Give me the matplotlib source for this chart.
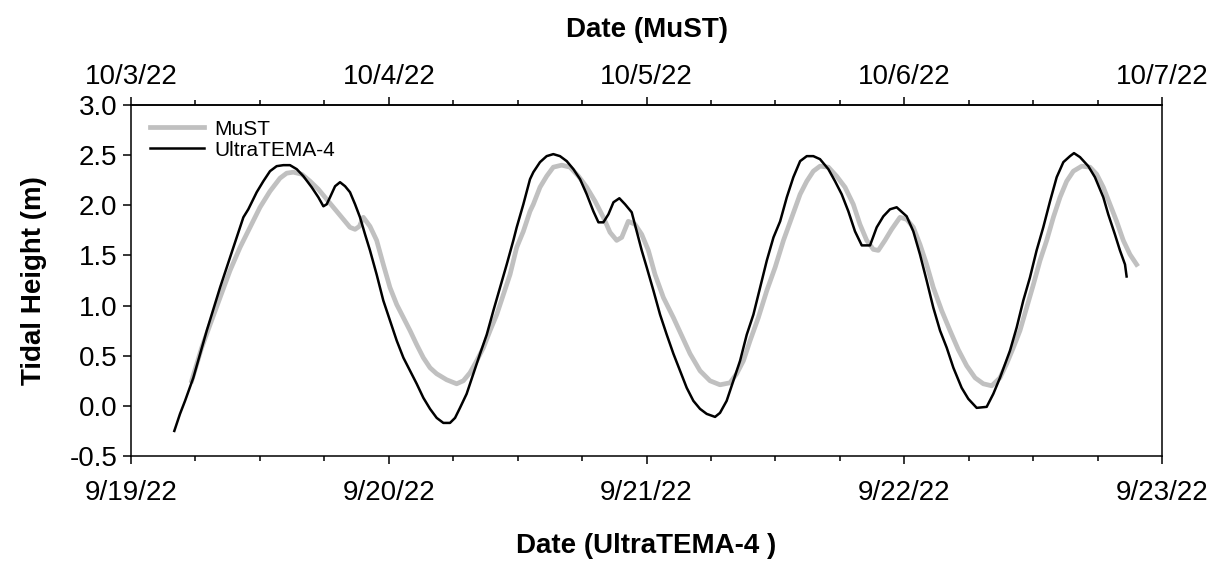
import numpy as np
import pandas as pd
import matplotlib
matplotlib.use("Agg")
from matplotlib import pyplot as plt
import matplotlib.dates as mdates

plt.rcParams['font.family'] = ['Liberation Sans', 'DejaVu Sans']

# UltraTEMA-4 record (hours after 9/19/22 00:00, tidal height in m)
ultra_hours = [4.03, 4.56, 5.03, 5.80, 7.05, 8.29, 9.22, 10.46, 10.92, 11.70, 12.32, 12.94,
               13.56, 14.18, 14.80, 15.43, 16.05, 16.82, 17.44, 17.91, 18.22, 18.53, 19.00,
               19.46, 19.93, 20.39, 20.86, 21.32, 21.79, 22.25, 22.87, 23.49, 24.11, 24.74,
               25.36, 25.98, 26.60, 27.22, 27.84, 28.46, 29.08, 29.70, 30.17, 30.63, 31.25,
               31.87, 32.50, 33.12, 33.74, 34.36, 34.98, 35.60, 35.91, 36.53, 37.15, 37.46,
               38.08, 38.70, 39.32, 39.94, 40.57, 41.19, 41.81, 42.43, 43.05, 43.52, 43.98,
               44.45, 44.92, 45.47, 46.00, 46.62, 47.09, 47.55, 48.02, 48.64, 49.26, 49.88,
               50.50, 51.12, 51.74, 52.36, 52.98, 53.60, 54.38, 54.84, 55.46, 56.09, 56.71,
               57.33, 57.95, 58.58, 59.20, 59.82, 60.44, 61.06, 61.67, 62.30, 62.92, 63.53,
               64.15, 64.93, 65.55, 66.17, 66.79, 67.41, 68.04, 68.81, 69.43, 70.05, 70.67,
               71.29, 72.22, 72.84, 73.46, 74.08, 74.70, 75.33, 75.95, 76.57, 77.34, 77.96,
               78.74, 79.67, 80.29, 80.91, 81.84, 82.46, 83.08, 83.70, 84.32, 84.94, 85.57,
               86.19, 86.81, 87.43, 87.80, 88.36, 89.13, 89.75, 90.53, 90.99, 91.61, 92.08,
               92.55, 92.70]
ultra_height = [-0.25, -0.08, 0.05, 0.28, 0.75, 1.18, 1.48, 1.88, 1.96, 2.13, 2.24, 2.34,
                2.39, 2.40, 2.40, 2.36, 2.29, 2.18, 2.08, 1.99, 2.01, 2.08, 2.19,
                2.23, 2.19, 2.13, 2.01, 1.88, 1.71, 1.55, 1.31, 1.05, 0.85, 0.65,
                0.48, 0.35, 0.22, 0.08, -0.03, -0.12, -0.17, -0.17, -0.12, -0.02, 0.12,
                0.32, 0.52, 0.71, 0.95, 1.18, 1.41, 1.65, 1.78, 2.01, 2.26, 2.33,
                2.43, 2.49, 2.51, 2.49, 2.44, 2.36, 2.26, 2.11, 1.94, 1.83, 1.83,
                1.91, 2.03, 2.07, 2.01, 1.93, 1.74, 1.55, 1.38, 1.15, 0.91, 0.71,
                0.52, 0.35, 0.18, 0.05, -0.03, -0.08, -0.11, -0.07, 0.05, 0.25, 0.45,
                0.71, 0.91, 1.18, 1.45, 1.68, 1.84, 2.08, 2.28, 2.44, 2.49, 2.49,
                2.46, 2.36, 2.24, 2.11, 1.94, 1.74, 1.60, 1.60, 1.78, 1.89, 1.96,
                1.98, 1.89, 1.74, 1.51, 1.25, 0.98, 0.75, 0.58, 0.38, 0.18, 0.07,
                -0.02, -0.01, 0.12, 0.28, 0.55, 0.78, 1.05, 1.28, 1.55, 1.78, 2.04,
                2.28, 2.43, 2.49, 2.52, 2.48, 2.39, 2.28, 2.08, 1.91, 1.71, 1.55,
                1.41, 1.29]

# MuST record, plotted against the UltraTEMA-4 clock (offset 14 days)
must_hours = [5.65, 6.58, 7.36, 8.29, 9.22, 10.15, 11.08, 12.01, 12.94, 13.87, 14.49, 15.11,
              15.89, 16.67, 17.44, 18.22, 18.99, 19.77, 20.39, 20.86, 21.26, 21.63, 22.25,
              22.87, 23.49, 24.11, 24.74, 25.36, 25.98, 26.60, 27.22, 27.84, 28.46, 29.39,
              30.32, 30.94, 31.56, 32.19, 32.81, 33.43, 34.05, 34.67, 35.29, 35.91, 36.53,
              37.15, 37.46, 38.08, 38.70, 39.32, 40.10, 40.88, 41.66, 42.43, 43.21, 43.98,
              44.60, 45.22, 45.69, 46.30, 46.93, 47.55, 48.17, 48.79, 49.57, 50.50, 51.27,
              52.05, 52.98, 53.91, 54.84, 55.77, 56.39, 57.02, 57.64, 58.41, 59.20, 59.97,
              60.75, 61.53, 62.30, 62.92, 63.53, 64.15, 64.93, 65.70, 66.48, 67.25, 67.87,
              68.50, 69.12, 69.58, 70.20, 70.82, 71.60, 72.22, 72.84, 73.46, 74.08, 74.70,
              75.48, 76.26, 77.03, 77.81, 78.59, 79.36, 80.14, 80.91, 81.53, 82.15, 82.77,
              83.40, 84.02, 84.64, 85.26, 85.88, 86.50, 87.12, 87.74, 88.52, 89.29, 89.91,
              90.53, 91.15, 91.77, 92.39, 93.01, 93.63]
must_height = [0.25, 0.58, 0.81, 1.08, 1.35, 1.58, 1.78, 1.98, 2.14, 2.27, 2.32, 2.33,
               2.31, 2.24, 2.16, 2.06, 1.96, 1.86, 1.78, 1.76, 1.79, 1.88, 1.79,
               1.65, 1.41, 1.18, 1.01, 0.88, 0.75, 0.61, 0.48, 0.38, 0.32, 0.26,
               0.22, 0.25, 0.33, 0.45, 0.58, 0.75, 0.91, 1.11, 1.31, 1.58, 1.74,
               1.94, 2.01, 2.18, 2.29, 2.38, 2.40, 2.38, 2.29, 2.18, 2.04, 1.88,
               1.73, 1.65, 1.68, 1.84, 1.81, 1.71, 1.55, 1.31, 1.08, 0.88, 0.70,
               0.52, 0.35, 0.25, 0.21, 0.23, 0.32, 0.45, 0.65, 0.88, 1.15, 1.38,
               1.65, 1.88, 2.11, 2.24, 2.34, 2.39, 2.38, 2.29, 2.18, 2.01, 1.81,
               1.65, 1.56, 1.55, 1.65, 1.76, 1.88, 1.86, 1.78, 1.61, 1.41, 1.18,
               0.95, 0.75, 0.56, 0.40, 0.28, 0.22, 0.20, 0.28, 0.42, 0.58, 0.75,
               0.98, 1.21, 1.45, 1.65, 1.88, 2.08, 2.24, 2.34, 2.39, 2.38, 2.31,
               2.18, 2.01, 1.84, 1.65, 1.51, 1.41]

start = pd.Timestamp('2022-09-19')
must_offset_days = 14

ultra_t = start + pd.to_timedelta(ultra_hours, unit='h')
must_t = start + pd.to_timedelta(must_hours, unit='h')

fig = plt.figure(figsize=(12.2, 5.62), dpi=100)
ax = fig.add_axes([0.1074, 0.1886, 0.8451, 0.6246])

ax.plot(must_t, must_height, color='#c0c0c0', lw=3.4, label='MuST')
ax.plot(ultra_t, ultra_height, color='black', lw=1.8, label='UltraTEMA-4')

ax.set_xlim(start, start + pd.Timedelta(days=4))
ax.set_ylim(-0.5, 3.0)
ax.set_yticks(np.arange(-0.5, 3.01, 0.5))
ax.yaxis.set_major_formatter(plt.FormatStrFormatter('%.1f'))

ax.xaxis.set_major_locator(mdates.DayLocator())
ax.xaxis.set_minor_locator(mdates.HourLocator(byhour=[6, 12, 18]))
ax.xaxis.set_major_formatter(mdates.DateFormatter('%-m/%-d/%y'))

# top axis shows the MuST dates
top = ax.secondary_xaxis('top', functions=(lambda x: x + must_offset_days,
                                             lambda x: x - must_offset_days))
top.xaxis.set_major_locator(mdates.DayLocator())
top.xaxis.set_minor_locator(mdates.HourLocator(byhour=[6, 12, 18]))
top.xaxis.set_major_formatter(mdates.DateFormatter('%-m/%-d/%y'))

for a in (ax, top):
    a.tick_params(which='major', direction='out', length=6, width=1.1, labelsize=20)
    a.tick_params(which='minor', direction='out', length=3.5, width=1.1)
ax.tick_params(axis='x', pad=11)
ax.tick_params(axis='y', pad=4)
top.tick_params(axis='x', pad=5)
for s in ax.spines.values():
    s.set_linewidth(1.1)
top.spines['top'].set_linewidth(1.1)

ax.set_xlabel('Date (UltraTEMA-4 )', fontsize=20, fontweight='bold', labelpad=20)
top.set_xlabel('Date (MuST)', fontsize=20, fontweight='bold', labelpad=19)
ax.set_ylabel('Tidal Height (m)', fontsize=20, fontweight='bold', labelpad=16)

ax.legend(loc='upper left', bbox_to_anchor=(0.004, 1.0), frameon=False, fontsize=15,
          handlelength=2.6, handletextpad=0.5, labelspacing=0.1, borderaxespad=0.3)

fig.savefig('out.png', dpi=100)
